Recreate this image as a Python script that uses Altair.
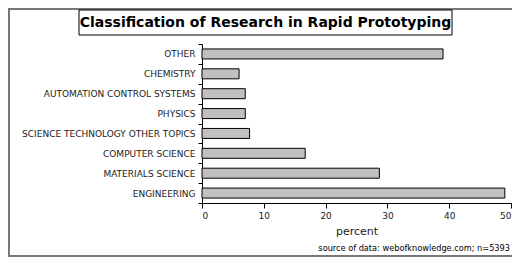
import altair as alt
import pandas as pd

categories = ["OTHER", "CHEMISTRY", "AUTOMATION CONTROL SYSTEMS", "PHYSICS",
              "SCIENCE TECHNOLOGY OTHER TOPICS", "COMPUTER SCIENCE",
              "MATERIALS SCIENCE", "ENGINEERING"]
percent = [39.0, 6.0, 7.0, 7.0, 7.7, 16.7, 28.7, 49.0]
x_ticks = [0, 10, 20, 30, 40, 50]
title_text = "Classification of Research in Rapid Prototyping"
source_text = "source of data: webofknowledge.com; n=5393"

df = pd.DataFrame({"category": categories, "percent": percent})
FONT = "DejaVu Sans"

W, H = 309, 159
PAD_L, PAD_T = 194, 36
TOT_W, TOT_H = 504, 249

bars = alt.Chart(df).mark_bar(
    fill="#c0c0c0", stroke="#000000", strokeWidth=1, height=10
).encode(
    x=alt.X("percent:Q", scale=alt.Scale(domain=[0, 50], nice=False),
            axis=alt.Axis(values=x_ticks, title="percent", grid=False,
                          tickSize=5, labelFontSize=9, titleFontSize=11,
                          labelFont=FONT, titleFont=FONT, titleFontWeight="normal",
                          labelColor="#222", titleColor="#222",
                          domainColor="#000", tickColor="#000",
                          labelPadding=3, titlePadding=5)),
    y=alt.Y("category:N", sort=categories, title=None,
            scale=alt.Scale(paddingInner=0, paddingOuter=0),
            axis=alt.Axis(tickBand="extent", tickSize=4, labelFontSize=9,
                          labelFont=FONT, labelColor="#222", domainColor="#000",
                          tickColor="#000", labelPadding=3)),
)

one = pd.DataFrame({"k": [0]})

frame = alt.Chart(one).mark_rect(fill=None, stroke="#777", strokeWidth=2).encode(
    x=alt.value(-193), x2=alt.value(340), y=alt.value(-35), y2=alt.value(TOT_H - PAD_T - 1)
)
title_box = alt.Chart(one).mark_rect(fill="white", stroke="#000", strokeWidth=1).encode(
    x=alt.value(-123), x2=alt.value(250), y=alt.value(-34), y2=alt.value(-9)
)
title = alt.Chart(one).mark_text(
    font=FONT, fontSize=14, fontWeight="bold", color="#000",
    align="center", baseline="middle"
).encode(x=alt.value(63.5), y=alt.value(-21.5), text=alt.value(title_text))
source = alt.Chart(one).mark_text(
    font=FONT, fontSize=8.2, color="#000", align="right", baseline="alphabetic"
).encode(x=alt.value(TOT_W - PAD_L - 2), y=alt.value(207), text=alt.value(source_text))

chart = alt.layer(frame, title_box, title, bars, source).properties(
    width=W, height=H,
    autosize=alt.AutoSizeParams(type="none"),
    padding={"left": PAD_L, "top": PAD_T, "right": TOT_W - PAD_L - W,
             "bottom": TOT_H - PAD_T - H},
).configure_view(stroke=None)

chart.save("out.html", embed_options={"renderer": "svg", "actions": False})
